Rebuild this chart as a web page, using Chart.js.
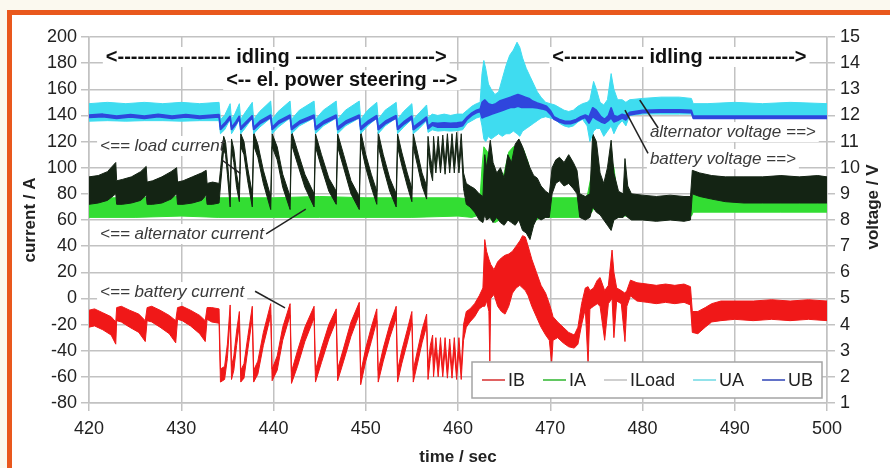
<!DOCTYPE html>
<html>
<head>
<meta charset="utf-8">
<title>Alternator / battery currents and voltages</title>
<script src="https://cdn.jsdelivr.net/npm/chart.js@4.4.1/dist/chart.umd.min.js"></script>
<style>
  html, body { margin: 0; padding: 0; background: #fbf9ef; overflow: hidden; }
  #frame { position: absolute; left: 7px; top: 10px; width: 900px; height: 470px;
           border: 5px solid #e9581d; background: #fff; }
  #chart { position: absolute; left: 0; top: 0; }
</style>
</head>
<body>
<div id="frame"></div>
<canvas id="chart" width="890" height="468"></canvas>
<script>
"use strict";

// ── Data ─────────────────────────────────────────────────────────────────────
// Each row: [time / s, upper edge, lower edge] of the noisy trace band.

// battery current, A
const IB = [
  [420.0, -9, -22], [420.6, -8, -21], [421.5, -11, -24], [422.4, -14, -28], [422.9, -18, -35],
  [423.0, -7, -17], [423.5, -6, -18], [424.4, -9, -22], [425.4, -12, -26], [426.1, -17, -33],
  [426.3, -7, -17], [426.8, -6, -18], [427.7, -9, -22], [428.7, -13, -27], [429.4, -17, -34],
  [429.6, -7, -16], [430.1, -6, -17], [431.0, -9, -21], [432.0, -13, -27], [432.6, -17, -33],
  [432.8, -7, -16], [433.3, -7, -18], [434.1, -8, -19],
  [434.25, -54, -64], [434.7, -52, -62], [435.0, -35, -46], [435.3, -5, -14],
  [435.45, -52, -62], [435.7, -44, -55], [436.0, -25, -36], [436.3, -10, -20],
  [436.45, -55, -64], [436.8, -50, -61], [437.2, -30, -40], [437.7, -6, -15],
  [437.85, -55, -64], [438.3, -48, -58], [438.9, -26, -36], [439.7, -4, -13],
  [439.85, -54, -63], [440.4, -44, -55], [441.0, -22, -32], [441.8, -4, -13],
  [441.95, -56, -65], [442.6, -40, -52], [443.4, -22, -33], [444.4, -6, -15],
  [444.55, -55, -64], [445.2, -38, -49], [446.0, -20, -31], [446.8, -8, -17],
  [446.95, -54, -63], [447.6, -38, -48], [448.4, -18, -29], [449.3, -3, -12],
  [449.45, -57, -66], [450.0, -38, -48], [450.6, -22, -33], [451.2, -8, -17],
  [451.35, -55, -64], [451.9, -38, -48], [452.6, -20, -30], [453.3, -6, -15],
  [453.45, -55, -64], [453.9, -40, -50], [454.5, -24, -34], [455.0, -10, -19],
  [455.15, -55, -64], [455.6, -40, -50], [456.1, -24, -34], [456.6, -12, -21],
  [456.75, -52, -62], [457.0, -36, -46], [457.25, -28, -38],
  [457.35, -52, -60], [457.6, -30, -40], [457.85, -52, -60], [458.1, -30, -40],
  [458.35, -53, -60], [458.6, -30, -39], [458.85, -54, -61], [459.1, -31, -40],
  [459.35, -54, -61], [459.6, -30, -40], [459.85, -55, -62], [460.1, -30, -40],
  [460.35, -54, -62],
  [460.6, -20, -32], [460.9, -10, -22], [461.3, -8, -18], [461.8, -4, -14], [462.3, 2, -8],
  [462.7, 8, -6], [462.9, 45, -6], [463.1, 36, -2], [463.35, 30, -10], [463.45, 28, -48],
  [463.55, 26, 0], [463.9, 22, 3], [464.3, 28, -6], [464.7, 31, -10], [465.1, 33, -12],
  [465.5, 34, -6], [465.9, 36, 4], [466.3, 40, 8], [466.7, 44, 10], [467.0, 48, 8],
  [467.3, 47, 6], [467.6, 40, 2], [468.0, 30, -6], [468.5, 20, -14], [469.0, 10, -22],
  [469.5, 4, -28], [469.9, -4, -32], [470.15, -10, -50], [470.3, -14, -32], [470.8, -18, -30],
  [471.4, -22, -34], [472.0, -26, -37], [472.6, -28, -38], [473.0, -22, -35], [473.4, -4, -20],
  [473.8, 8, -8], [474.1, 9, -50], [474.3, 6, -8], [474.7, 8, -6], [475.1, 14, -4],
  [475.4, 16, -6], [475.9, 6, -32], [476.3, 10, -4], [476.7, 37, 0], [476.9, 20, -30],
  [477.2, 8, -2], [477.7, 6, -4], [478.1, 4, -33], [478.3, 6, -6], [478.7, 14, 2],
  [479.4, 12, -2], [480.5, 11, -3], [481.5, 10, -4], [482.5, 11, -3], [483.5, 10, -4],
  [484.5, 11, -3], [485.2, 9, -5], [485.4, -10, -26], [486.0, -10, -27], [486.8, -7, -22],
  [487.5, -4, -18], [488.5, -2, -17], [490.0, -2, -16], [492.0, -2, -17], [494.0, -1, -16],
  [496.0, -2, -17], [498.0, -1, -16], [500.0, -2, -17],
];

// alternator current, A
const IA = [
  [420, 77, 62], [425, 77, 62], [430, 78, 63], [434, 77, 62], [440, 77, 62], [445, 78, 62],
  [450, 77, 62], [455, 77, 62], [460, 77, 63], [461.5, 76, 62], [462.4, 78, 64],
  [462.6, 100, 66], [462.8, 116, 70], [463.2, 112, 68], [463.6, 105, 60], [464.0, 95, 58],
  [464.5, 88, 60], [465.0, 96, 62], [465.5, 112, 66], [466.0, 116, 70], [466.6, 118, 72],
  [467.1, 114, 68], [467.6, 104, 62], [468.0, 90, 60], [468.5, 80, 60], [469.0, 78, 62],
  [470, 77, 62], [473, 77, 62], [474.0, 78, 63], [474.5, 96, 66], [474.8, 100, 70],
  [475.2, 88, 68], [475.8, 76, 62], [476.3, 84, 62], [476.6, 106, 70], [476.9, 100, 66],
  [477.3, 78, 62], [478, 77, 63], [485.3, 77, 63], [485.5, 80, 66], [490, 80, 66],
  [495, 80, 66], [500, 80, 66],
];

// load current, A
const ILOAD = [
  [420.0, 93, 72], [421.0, 94, 73], [422.0, 97, 75], [422.9, 104, 80],
  [423.0, 90, 72], [423.6, 91, 72], [424.6, 93, 73], [425.6, 97, 75], [426.2, 101, 79],
  [426.3, 89, 72], [426.9, 90, 72], [427.9, 93, 73], [428.9, 97, 76], [429.5, 100, 80],
  [429.6, 89, 72], [430.2, 90, 72], [431.2, 93, 73], [432.2, 96, 75], [432.7, 98, 79],
  [432.8, 88, 72], [433.4, 89, 72], [434.1, 88, 73],
  [434.25, 98, 86], [434.6, 124, 114], [434.8, 120, 110], [435.0, 105, 95], [435.3, 80, 70],
  [435.45, 122, 114], [435.7, 114, 104], [436.0, 95, 85], [436.3, 84, 74],
  [436.45, 126, 116], [436.8, 120, 110], [437.2, 100, 90], [437.7, 80, 70],
  [437.85, 127, 117], [438.3, 118, 108], [438.9, 98, 88], [439.7, 78, 68],
  [439.85, 126, 116], [440.4, 116, 106], [441.0, 95, 85], [441.8, 78, 68],
  [441.95, 128, 118], [442.6, 113, 103], [443.4, 95, 85], [444.4, 80, 70],
  [444.55, 126, 116], [445.2, 110, 100], [446.0, 92, 82], [446.8, 82, 72],
  [446.95, 126, 116], [447.6, 110, 100], [448.4, 90, 80], [449.3, 78, 68],
  [449.45, 128, 118], [450.0, 110, 100], [450.6, 95, 85], [451.2, 82, 72],
  [451.35, 127, 117], [451.9, 110, 100], [452.6, 92, 82], [453.3, 80, 70],
  [453.45, 126, 116], [453.9, 112, 102], [454.5, 96, 86], [455.0, 84, 74],
  [455.15, 126, 116], [455.6, 112, 102], [456.1, 96, 86], [456.6, 86, 76],
  [456.75, 124, 114], [457.0, 108, 98], [457.25, 100, 90],
  [457.35, 124, 114], [457.6, 104, 96], [457.85, 124, 114], [458.1, 104, 96],
  [458.35, 125, 115], [458.6, 103, 95], [458.85, 126, 116], [459.1, 104, 96],
  [459.35, 126, 116], [459.6, 104, 96], [459.85, 127, 117], [460.1, 104, 96],
  [460.35, 126, 116],
  [460.6, 96, 84], [460.9, 88, 72], [461.3, 86, 70], [461.8, 84, 66], [462.3, 80, 60],
  [462.7, 78, 58], [462.9, 110, 64], [463.1, 100, 60], [463.5, 121, 62], [463.8, 104, 58],
  [464.2, 96, 62], [464.6, 100, 58], [465.0, 92, 56], [465.4, 110, 60], [465.8, 104, 58],
  [466.2, 118, 56], [466.6, 122, 60], [467.0, 116, 52], [467.4, 108, 50], [467.8, 100, 45],
  [468.2, 94, 56], [468.6, 92, 62], [469.0, 86, 60], [469.5, 82, 62], [469.9, 80, 62],
  [470.2, 100, 80], [470.6, 106, 88], [471.0, 108, 90], [471.5, 104, 86], [472.0, 110, 88],
  [472.5, 104, 84], [472.9, 98, 80], [473.2, 80, 62], [473.8, 78, 60], [474.3, 80, 62],
  [474.6, 126, 70], [475.0, 120, 66], [475.4, 96, 64], [475.8, 88, 60], [476.2, 100, 56],
  [476.6, 121, 52], [476.9, 96, 60], [477.4, 82, 62], [477.9, 80, 62], [478.1, 107, 64],
  [478.4, 86, 62], [478.8, 80, 60], [480, 79, 60], [481.5, 78, 59], [483, 79, 60],
  [484.5, 78, 59], [485.2, 78, 60], [485.4, 98, 80], [486.2, 96, 78], [487.5, 94, 76],
  [489, 93, 74], [491, 93, 73], [493, 93, 73], [495, 94, 73], [497, 93, 73], [499, 94, 73],
  [500, 93, 73],
];

// alternator voltage, V
const UA = [
  [420, 12.45, 11.78], [422, 12.5, 11.8], [424, 12.45, 11.78], [426, 12.5, 11.8],
  [428, 12.45, 11.8], [430, 12.5, 11.78], [432, 12.45, 11.8], [434.1, 12.5, 11.8],
  [434.25, 11.85, 11.3], [434.7, 12.0, 11.45], [435.3, 12.45, 11.85],
  [435.45, 11.85, 11.3], [435.8, 12.05, 11.5], [436.3, 12.45, 11.85],
  [436.45, 11.85, 11.3], [436.9, 12.1, 11.5], [437.7, 12.5, 11.9],
  [437.85, 11.85, 11.3], [438.5, 12.15, 11.55], [439.7, 12.55, 11.9],
  [439.85, 11.85, 11.3], [440.5, 12.15, 11.55], [441.8, 12.55, 11.9],
  [441.95, 11.85, 11.3], [442.8, 12.2, 11.6], [444.4, 12.55, 11.9],
  [444.55, 11.85, 11.3], [445.4, 12.2, 11.6], [446.8, 12.55, 11.9],
  [446.95, 11.85, 11.3], [447.8, 12.2, 11.6], [449.3, 12.55, 11.9],
  [449.45, 11.85, 11.3], [450.2, 12.2, 11.6], [451.2, 12.5, 11.9],
  [451.35, 11.85, 11.3], [452.1, 12.2, 11.6], [453.3, 12.5, 11.9],
  [453.45, 11.85, 11.3], [454.1, 12.15, 11.55], [455.0, 12.45, 11.85],
  [455.15, 11.85, 11.3], [455.8, 12.1, 11.5], [456.6, 12.4, 11.8],
  [456.75, 11.9, 11.35], [457.2, 12.05, 11.45],
  [457.8, 12.0, 11.4], [458.5, 12.05, 11.42], [459.2, 12.0, 11.4], [459.9, 12.05, 11.42],
  [460.5, 12.05, 11.45], [461.0, 12.2, 11.7], [461.5, 12.35, 11.8], [462.0, 12.45, 11.9],
  [462.4, 12.5, 11.95], [462.6, 13.6, 11.6], [462.8, 14.1, 11.1], [463.0, 13.8, 11.0],
  [463.3, 13.2, 11.2], [463.6, 13.0, 11.1], [464.0, 12.8, 11.2], [464.4, 12.9, 11.3],
  [464.8, 13.4, 11.2], [465.2, 13.9, 11.3], [465.6, 14.3, 11.3], [466.0, 14.5, 11.4],
  [466.4, 14.8, 11.3], [466.7, 14.6, 11.2], [467.0, 14.2, 11.4], [467.4, 13.8, 11.5],
  [467.8, 13.5, 11.6], [468.2, 13.2, 11.7], [468.6, 12.9, 11.8], [469.0, 12.7, 11.9],
  [469.5, 12.5, 11.95], [470.0, 12.45, 11.9], [470.5, 12.4, 11.85], [471.0, 12.3, 11.7],
  [471.5, 12.2, 11.6], [472.0, 12.15, 11.55], [472.5, 12.2, 11.6], [473.0, 12.35, 11.75],
  [473.5, 12.45, 11.85], [474.0, 12.5, 11.6], [474.3, 12.6, 11.0], [474.7, 13.3, 11.4],
  [475.0, 13.0, 11.5], [475.4, 12.5, 11.5], [475.8, 12.4, 11.2], [476.2, 12.6, 11.4],
  [476.6, 13.6, 11.6], [476.9, 13.0, 11.3], [477.3, 12.6, 11.6], [477.8, 12.6, 11.8],
  [478.2, 12.5, 11.6], [478.6, 12.6, 12.0], [480, 12.65, 12.05], [482, 12.7, 12.05],
  [484, 12.7, 12.05], [485.3, 12.65, 12.05], [485.5, 12.45, 11.9], [487, 12.45, 11.88],
  [490, 12.5, 11.9], [493, 12.45, 11.88], [496, 12.5, 11.9], [500, 12.45, 11.88],
];

// battery voltage, V
const UB = [
  [420, 12.02, 11.92], [421.5, 12.05, 11.95], [423, 11.98, 11.88], [424.5, 12.04, 11.94],
  [426, 11.98, 11.88], [427.5, 12.05, 11.95], [429, 11.98, 11.88], [430.5, 12.04, 11.94],
  [432, 11.98, 11.88], [434.1, 12.04, 11.94],
  [434.25, 11.55, 11.45], [434.8, 11.75, 11.65], [435.3, 11.98, 11.88],
  [435.45, 11.55, 11.45], [435.9, 11.75, 11.65], [436.3, 11.98, 11.88],
  [436.45, 11.55, 11.45], [437.0, 11.75, 11.65], [437.7, 12.0, 11.9],
  [437.85, 11.55, 11.45], [438.6, 11.8, 11.7], [439.7, 12.02, 11.92],
  [439.85, 11.55, 11.45], [440.6, 11.8, 11.7], [441.8, 12.02, 11.92],
  [441.95, 11.55, 11.45], [442.9, 11.8, 11.7], [444.4, 12.02, 11.92],
  [444.55, 11.55, 11.45], [445.5, 11.8, 11.7], [446.8, 12.02, 11.92],
  [446.95, 11.55, 11.45], [447.9, 11.8, 11.7], [449.3, 12.02, 11.92],
  [449.45, 11.55, 11.45], [450.3, 11.8, 11.7], [451.2, 12.0, 11.9],
  [451.35, 11.55, 11.45], [452.2, 11.8, 11.7], [453.3, 12.0, 11.9],
  [453.45, 11.55, 11.45], [454.2, 11.78, 11.68], [455.0, 11.98, 11.88],
  [455.15, 11.55, 11.45], [455.9, 11.75, 11.65], [456.6, 11.95, 11.85],
  [456.75, 11.58, 11.48], [457.2, 11.72, 11.62],
  [457.8, 11.7, 11.55], [458.5, 11.72, 11.55], [459.2, 11.7, 11.55], [459.9, 11.72, 11.55],
  [460.5, 11.75, 11.6], [461.0, 11.95, 11.85], [461.5, 12.1, 12.0], [462.0, 12.2, 12.1],
  [462.4, 12.25, 12.15], [462.6, 12.5, 11.9], [462.9, 12.6, 11.95], [463.3, 12.45, 12.0],
  [463.7, 12.4, 12.05], [464.1, 12.45, 12.1], [464.5, 12.55, 12.15], [464.9, 12.6, 12.2],
  [465.3, 12.65, 12.25], [465.7, 12.7, 12.3], [466.1, 12.75, 12.3], [466.5, 12.8, 12.35],
  [466.9, 12.75, 12.3], [467.3, 12.7, 12.3], [467.7, 12.65, 12.3], [468.1, 12.55, 12.3],
  [468.6, 12.48, 12.28], [469.1, 12.42, 12.25], [469.6, 12.35, 12.2], [470.0, 12.2, 12.05],
  [470.4, 11.95, 11.85], [471.0, 11.85, 11.75], [471.6, 11.78, 11.68], [472.2, 11.78, 11.68],
  [472.8, 11.85, 11.75], [473.3, 11.95, 11.85], [473.8, 12.02, 11.92], [474.2, 11.95, 11.7],
  [474.6, 12.3, 11.95], [475.0, 12.2, 11.85], [475.5, 11.95, 11.75], [475.9, 11.85, 11.7],
  [476.3, 12.0, 11.8], [476.6, 12.3, 11.9], [476.9, 12.0, 11.75], [477.3, 11.95, 11.8],
  [477.8, 12.05, 11.9], [478.2, 12.0, 11.82], [478.6, 12.12, 12.02], [480, 12.2, 12.1],
  [482, 12.22, 12.12], [484, 12.22, 12.12], [485.3, 12.2, 12.1], [485.5, 11.98, 11.88],
  [487, 11.98, 11.88], [490, 11.98, 11.88], [495, 11.98, 11.88], [500, 11.98, 11.88],
];

// ── Styling ──────────────────────────────────────────────────────────────────

const FONT = "'Liberation Sans', Arial, sans-serif";
const GRID = "#c2c2c2";
const TEXT = "#222";

const LEGEND = [
  { label: "IB", color: "#e06262" },
  { label: "IA", color: "#62c862" },
  { label: "ILoad", color: "#cfcfcf" },
  { label: "UA", color: "#92e2ea" },
  { label: "UB", color: "#6272c8" },
];

const BOLD = `bold 20px ${FONT}`;
const ITAL = `italic 17px ${FONT}`;

// Labels drawn on the plot, anchored in data units (time, current)
const NOTES = [
  { text: "<" + "-".repeat(17) + " idling " + "-".repeat(21) + ">", t: 440.3, a: 184.7, align: "center", font: BOLD, color: "#111" },
  { text: "<-- el. power steering -->", t: 447.4, a: 167.0, align: "center", font: BOLD, color: "#111" },
  { text: "<" + "-".repeat(12) + " idling " + "-".repeat(13) + ">", t: 484.0, a: 184.7, align: "center", font: BOLD, color: "#111" },
  { text: "<== load current", t: 421.2, a: 116.6, align: "left", font: ITAL, color: "#3a3a3a" },
  { text: "<== alternator current", t: 421.2, a: 49.3, align: "left", font: ITAL, color: "#3a3a3a" },
  { text: "<== battery current", t: 421.2, a: 4.9, align: "left", font: ITAL, color: "#3a3a3a" },
  { text: "alternator voltage ==>", t: 480.8, a: 127.3, align: "left", font: ITAL, color: "#3a3a3a" },
  { text: "battery voltage ==>", t: 480.8, a: 106.7, align: "left", font: ITAL, color: "#3a3a3a" },
];

// Leader lines [t1, a1, t2, a2]
const LEADERS = [
  [434.4, 105.9, 436.4, 95.7],
  [439.2, 49.3, 443.5, 68.4],
  [438.0, 5.5, 441.25, -7.2],
  [479.7, 151.8, 481.7, 130.4],
  [478.1, 144.1, 480.6, 111.0],
];

// ── Helpers ──────────────────────────────────────────────────────────────────

function bandDatasets(label, rows, color, axis, order, width) {
  const common = {
    yAxisID: axis,
    borderColor: color,
    backgroundColor: color,
    borderWidth: width,
    borderJoinStyle: "bevel",
    pointRadius: 0,
    tension: 0,
    order,
  };
  return [
    { ...common, label, data: rows.map(r => ({ x: r[0], y: r[1] })), fill: "+1" },
    { ...common, label: label + " (low)", data: rows.map(r => ({ x: r[0], y: r[2] })), fill: false },
  ];
}

function noteBox(chart, n) {
  const { ctx, scales } = chart;
  ctx.font = n.font;
  const w = ctx.measureText(n.text).width;
  const px = scales.x.getPixelForValue(n.t);
  const py = scales.y.getPixelForValue(n.a);
  return { x: n.align === "center" ? px - w / 2 : px, y: py, w };
}

function drawLegend(chart) {
  const { ctx, chartArea } = chart;
  const w = 350, h = 36;
  const left = chartArea.right - 5 - w;
  const top = chartArea.bottom - 5 - h;
  ctx.fillStyle = "#fff";
  ctx.fillRect(left, top, w, h);
  ctx.strokeStyle = "#a4a4a4";
  ctx.lineWidth = 1.5;
  ctx.strokeRect(left, top, w, h);
  ctx.font = `18px ${FONT}`;
  ctx.textBaseline = "middle";
  ctx.textAlign = "left";
  const y = top + h / 2;
  let x = left + 10;
  LEGEND.forEach(item => {
    ctx.strokeStyle = item.color;
    ctx.lineWidth = 2;
    ctx.beginPath();
    ctx.moveTo(x, y);
    ctx.lineTo(x + 23, y);
    ctx.stroke();
    ctx.fillStyle = TEXT;
    ctx.fillText(item.label, x + 26, y + 1);
    x += 26 + ctx.measureText(item.label).width + 18;
  });
}

// ── Plugin: notes, leaders, legend, right title ──────────────────────────────

const notesPlugin = {
  id: "notes",
  beforeDatasetsDraw(chart) {
    // white patches behind the labels hide the grid, like the original
    const { ctx } = chart;
    ctx.save();
    ctx.fillStyle = "#fff";
    NOTES.forEach(n => {
      const b = noteBox(chart, n);
      ctx.fillRect(b.x - 3, b.y - 10, b.w + 6, 20);
    });
    ctx.restore();
  },
  afterDatasetsDraw(chart) {
    const { ctx, scales } = chart;
    ctx.save();
    ctx.textBaseline = "middle";
    ctx.textAlign = "left";
    NOTES.forEach(n => {
      const b = noteBox(chart, n);
      ctx.fillStyle = n.color;
      ctx.fillText(n.text, b.x, b.y);
    });
    ctx.strokeStyle = "#222";
    ctx.lineWidth = 1.5;
    LEADERS.forEach(([t1, a1, t2, a2]) => {
      ctx.beginPath();
      ctx.moveTo(scales.x.getPixelForValue(t1), scales.y.getPixelForValue(a1));
      ctx.lineTo(scales.x.getPixelForValue(t2), scales.y.getPixelForValue(a2));
      ctx.stroke();
    });
    drawLegend(chart);
    ctx.restore();
  },
  afterDraw(chart) {
    // right axis title reads bottom-to-top in the original
    const { ctx, chartArea } = chart;
    ctx.save();
    ctx.translate(873, (chartArea.top + chartArea.bottom) / 2 - 13);
    ctx.rotate(-Math.PI / 2);
    ctx.font = `bold 17px ${FONT}`;
    ctx.fillStyle = TEXT;
    ctx.textAlign = "center";
    ctx.textBaseline = "middle";
    ctx.fillText("voltage / V", 0, 0);
    ctx.restore();
  },
};

// ── Chart ────────────────────────────────────────────────────────────────────

const datasets = [
  ...bandDatasets("UB", UB, "#2f46dd", "y2", 1, 1.5),
  ...bandDatasets("UA", UA, "#3fdcf0", "y2", 2, 1),
  ...bandDatasets("ILoad", ILOAD, "#142414", "y", 3, 1),
  ...bandDatasets("IA", IA, "#33dd33", "y", 4, 1),
  ...bandDatasets("IB", IB, "#f01818", "y", 5, 1),
];

const tickFont = { family: FONT, size: 18 };

new Chart(document.getElementById("chart"), {
  type: "line",
  data: { datasets },
  options: {
    responsive: false,
    animation: false,
    devicePixelRatio: 1,
    layout: { padding: { top: 37, right: 0, bottom: 0, left: 0 } },
    plugins: { legend: { display: false }, tooltip: { enabled: false } },
    scales: {
      x: {
        type: "linear",
        min: 420, max: 500,
        ticks: { stepSize: 10, font: tickFont, color: TEXT, padding: 7, maxRotation: 0 },
        grid: { color: GRID, lineWidth: 1.5, tickLength: 8 },
        border: { color: GRID, width: 1.5 },
        title: { display: true, text: "time / sec", font: { family: FONT, size: 17, weight: "bold" }, color: TEXT, padding: { top: 0, bottom: 0 } },
        afterFit: s => { s.height = 65; },
      },
      y: {
        position: "left",
        min: -80, max: 200,
        ticks: { stepSize: 20, font: tickFont, color: TEXT, padding: 4, autoSkip: false },
        grid: { color: GRID, lineWidth: 1.5, tickLength: 8 },
        border: { color: GRID, width: 1.5 },
        title: { display: true, text: "current / A", font: { family: FONT, size: 17, weight: "bold" }, color: TEXT, padding: { top: 20, bottom: 0 } },
        afterFit: s => { s.width = 89; },
      },
      y2: {
        position: "right",
        min: 1, max: 15,
        ticks: { stepSize: 1, font: tickFont, color: TEXT, padding: 5, autoSkip: false },
        grid: { drawOnChartArea: false, color: GRID, lineWidth: 1.5, tickLength: 8 },
        border: { color: GRID, width: 1.5 },
        afterFit: s => { s.width = 63; },
      },
    },
  },
  plugins: [notesPlugin],
});
</script>
</body>
</html>
